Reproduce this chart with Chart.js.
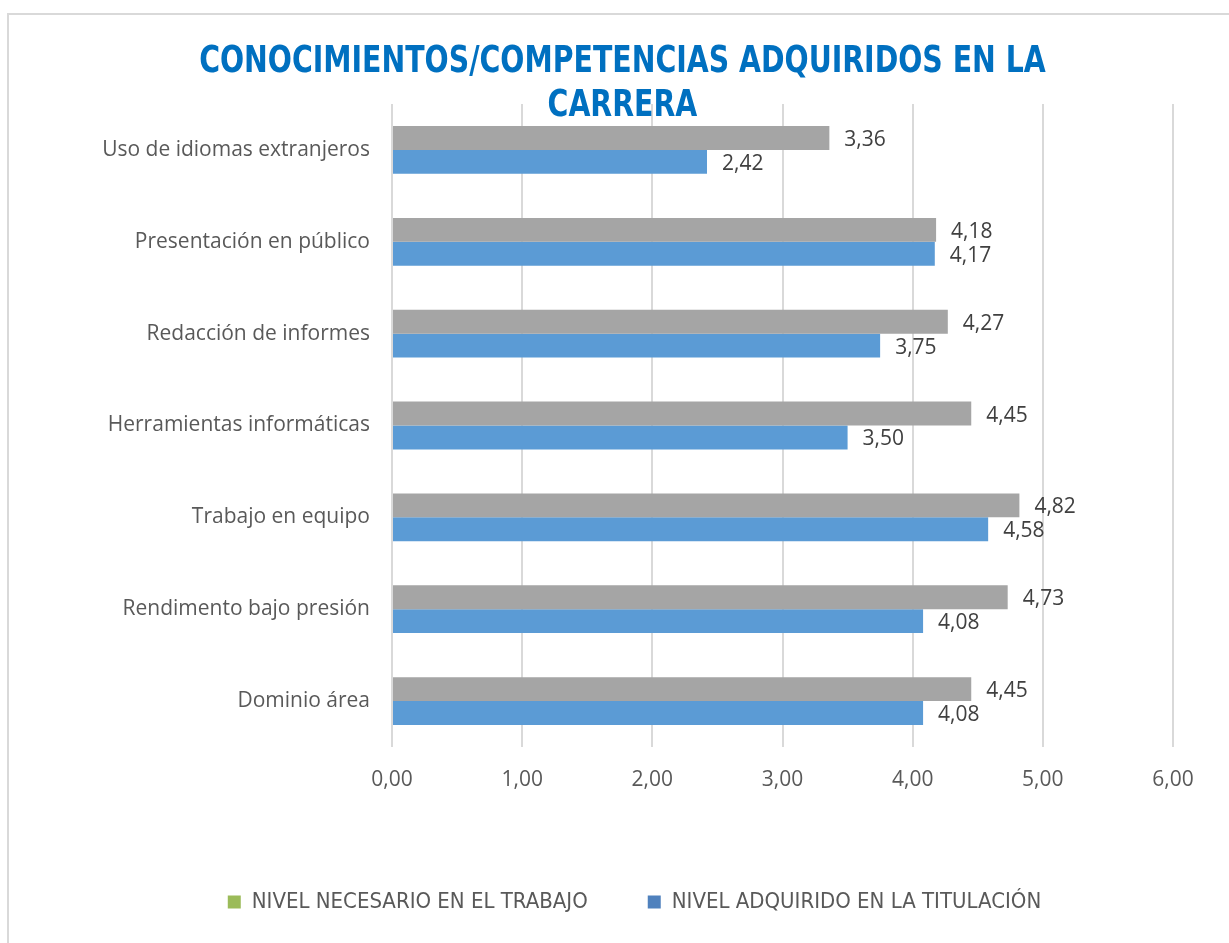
<!DOCTYPE html>
<html>
<head>
<meta charset="utf-8">
<script src="https://cdn.jsdelivr.net/npm/chart.js@4"></script>
<style>
  html, body { margin: 0; padding: 0; background: #fff; }
  #wrap { position: relative; width: 1229px; height: 943px; overflow: hidden; }
  #frame { position: absolute; left: 7px; top: 13px; width: 1300px; height: 1000px;
           border-top: 2px solid #d9d9d9; border-left: 2px solid #d9d9d9; }
  #title { position: absolute; left: 8px; top: 37px; width: 1229px; text-align: center;
           font-family: "DejaVu Sans Condensed", "Open Sans", sans-serif;
           font-weight: bold; font-size: 38px; line-height: 44px; color: #0070c0; z-index: 2;
           transform: scaleX(0.83); transform-origin: 614px 0; }
  canvas { position: absolute; left: 0; top: 0; }
</style>
</head>
<body>
<div id="wrap">
  <div id="frame"></div>
  <canvas id="chart" width="1229" height="943"></canvas>
  <div id="title">CONOCIMIENTOS/COMPETENCIAS ADQUIRIDOS EN LA<br>CARRERA</div>
</div>
<script>
const categories = [
  'Uso de idiomas extranjeros',
  'Presentación en público',
  'Redacción de informes',
  'Herramientas informáticas',
  'Trabajo en equipo',
  'Rendimento bajo presión',
  'Dominio área'
];
const seriesNames = ['NIVEL NECESARIO EN EL TRABAJO', 'NIVEL ADQUIRIDO EN LA TITULACIÓN'];
const nivelNecesario = [3.36, 4.18, 4.27, 4.45, 4.82, 4.73, 4.45];
const nivelAdquirido = [2.42, 4.17, 3.75, 3.50, 4.58, 4.08, 4.08];
const barColors = ['#a5a5a5', '#5b9bd5'];
const legendColors = ['#9bbb59', '#4f81bd'];

const fmt = v => v.toFixed(2).replace('.', ',');

// etiquetas de valor al final de cada barra
const valueLabels = {
  id: 'valueLabels',
  afterDatasetsDraw(chart) {
    const ctx = chart.ctx;
    ctx.save();
    ctx.font = '21px "Open Sans", sans-serif';
    ctx.fillStyle = '#404040';
    ctx.textAlign = 'left';
    ctx.textBaseline = 'middle';
    chart.data.datasets.forEach((ds, i) => {
      chart.getDatasetMeta(i).data.forEach((bar, j) => {
        ctx.fillText(fmt(ds.data[j]), bar.x + 15, bar.y + 2);
      });
    });
    ctx.restore();
  }
};

new Chart(document.getElementById('chart'), {
  type: 'bar',
  data: {
    labels: categories,
    datasets: [
      { label: seriesNames[0], data: nivelNecesario, backgroundColor: barColors[0] },
      { label: seriesNames[1], data: nivelAdquirido, backgroundColor: barColors[1] }
    ]
  },
  options: {
    indexAxis: 'y',
    responsive: false,
    animation: false,
    categoryPercentage: 0.52,
    barPercentage: 1.0,
    layout: { padding: { top: 104, left: 96, right: 56, bottom: 20 } },
    scales: {
      x: {
        min: 0, max: 6,
        ticks: { stepSize: 1, callback: v => fmt(v), color: '#595959', padding: 20,
                 font: { family: '"Open Sans", sans-serif', size: 21 } },
        grid: { color: '#d9d9d9', lineWidth: 2, drawTicks: false },
        border: { display: false },
        afterFit(scale) { scale.height = 84; }
      },
      y: {
        ticks: { color: '#595959', padding: 22,
                 font: { family: '"Open Sans", sans-serif', size: 21 } },
        grid: { display: false, drawTicks: false },
        border: { display: false },
        afterFit(scale) { scale.width = 296; }
      }
    },
    plugins: {
      tooltip: { enabled: false },
      legend: {
        position: 'bottom',
        labels: {
          boxWidth: 13, boxHeight: 13, padding: 60, color: '#595959',
          font: { family: '"DejaVu Sans Condensed", sans-serif', size: 22 },
          generateLabels(chart) {
            const items = Chart.defaults.plugins.legend.labels.generateLabels(chart);
            items.forEach((it, i) => { it.fillStyle = legendColors[i]; it.strokeStyle = legendColors[i]; it.lineWidth = 0; });
            return items;
          }
        }
      }
    }
  },
  plugins: [valueLabels]
});
</script>
</body>
</html>
